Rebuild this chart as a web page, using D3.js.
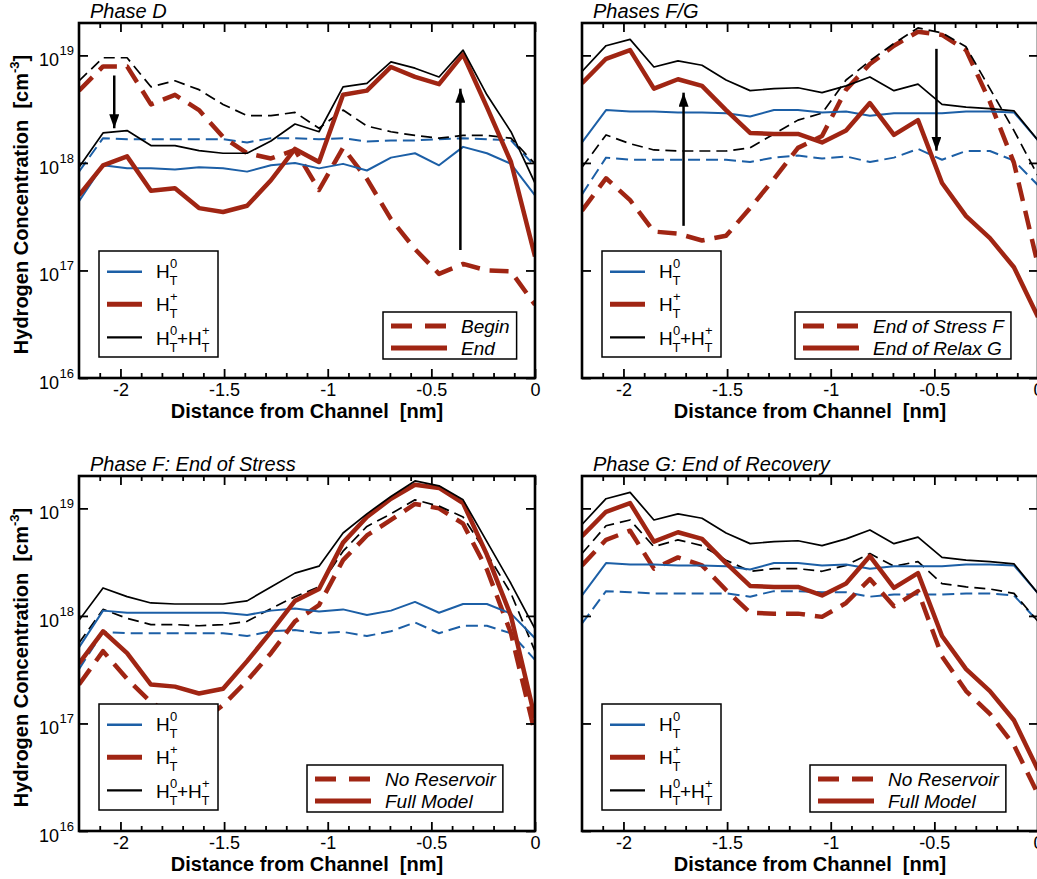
<!DOCTYPE html>
<html>
<head>
<meta charset="utf-8">
<script src="https://cdn.jsdelivr.net/npm/d3@7"></script>
<style>
  body { margin: 0; background: #fff; }
  svg { display: block; font-family: "Liberation Sans", Arial, Helvetica, sans-serif; }
</style>
</head>
<body>
<svg id="chart" width="1037" height="879"></svg>
<script>
// distance from channel [nm], one grid shared by every curve
var xs = [-2.2, -2.084, -1.968, -1.853, -1.737, -1.621, -1.505, -1.389, -1.274, -1.158,
          -1.042, -0.926, -0.811, -0.695, -0.579, -0.463, -0.347, -0.232, -0.116, 0];

// Phase D, begin / end  [cm^-3]
var phaseD_begin_h0  = [8.3e17, 1.7e18, 1.66e18, 1.66e18, 1.66e18, 1.66e18, 1.66e18, 1.55e18, 1.7e18, 1.7e18,
                        1.66e18, 1.7e18, 1.58e18, 1.62e18, 1.62e18, 1.66e18, 1.7e18, 1.66e18, 1.62e18, 9.3e17];
var phaseD_begin_hp  = [4.7e18, 7.9e18, 7.9e18, 3.5e18, 4.3e18, 3.1e18, 1.74e18, 1.23e18, 1.1e18, 1.32e18,
                        5.6e17, 1.38e18, 7.1e17, 3.0e17, 1.58e17, 9.3e16, 1.15e17, 1.0e17, 9.8e16, 4.8e16];
var phaseD_begin_sum = [5.8e18, 9.5e18, 9.5e18, 5.1e18, 5.8e18, 4.8e18, 3.5e18, 2.75e18, 2.75e18, 2.95e18,
                        2.1e18, 3.1e18, 2.2e18, 1.95e18, 1.8e18, 1.7e18, 1.8e18, 1.8e18, 1.7e18, 9.8e17];
var phaseD_end_h0    = [4.4e17, 9.5e17, 8.9e17, 8.9e17, 8.7e17, 9.1e17, 8.9e17, 8.3e17, 9.5e17, 1.0e18,
                        8.9e17, 9.8e17, 8.5e17, 1.12e18, 1.23e18, 9.5e17, 1.41e18, 1.23e18, 9.8e17, 5.0e17];
var phaseD_end_hp    = [5.0e17, 9.5e17, 1.15e18, 5.5e17, 5.8e17, 3.8e17, 3.5e17, 4.0e17, 6.9e17, 1.35e18,
                        1.02e18, 4.3e18, 4.7e18, 7.8e18, 6.3e18, 5.4e18, 1.02e19, 3.3e18, 1.02e18, 1.35e17];
var phaseD_end_sum   = [9.1e17, 1.9e18, 2.0e18, 1.45e18, 1.45e18, 1.3e18, 1.23e18, 1.23e18, 1.6e18, 2.3e18,
                        1.95e18, 5.1e18, 5.5e18, 8.7e18, 7.6e18, 6.3e18, 1.12e19, 4.3e18, 1.95e18, 6.5e17];

// end of stress F (full model)
var stressF_h0  = [5.1e17, 1.12e18, 1.07e18, 1.07e18, 1.07e18, 1.07e18, 1.07e18, 1.02e18, 1.12e18, 1.17e18,
                   1.1e18, 1.15e18, 1.02e18, 1.12e18, 1.35e18, 1.07e18, 1.29e18, 1.29e18, 1.05e18, 6.2e17];
var stressF_hp  = [3.6e17, 7.2e17, 4.5e17, 2.3e17, 2.2e17, 1.9e17, 2.1e17, 3.8e17, 7.1e17, 1.38e18,
                   1.78e18, 4.8e18, 8.3e18, 1.23e19, 1.66e19, 1.55e19, 1.12e19, 3.7e18, 1.0e18, 1.12e17];
var stressF_sum = [9.1e17, 1.82e18, 1.51e18, 1.32e18, 1.29e18, 1.29e18, 1.29e18, 1.38e18, 1.86e18, 2.5e18,
                   2.9e18, 5.9e18, 8.9e18, 1.29e19, 1.8e19, 1.62e19, 1.2e19, 4.9e18, 2.0e18, 7.6e17];

// end of relax / recovery G (full model)
var relaxG_h0  = [1.55e18, 3.1e18, 3.0e18, 3.0e18, 2.95e18, 2.95e18, 2.9e18, 2.7e18, 3.1e18, 3.1e18,
                  2.95e18, 3.0e18, 2.75e18, 2.9e18, 2.9e18, 2.9e18, 3.0e18, 3.0e18, 2.95e18, 1.62e18];
var relaxG_hp  = [5.5e18, 9.3e18, 1.12e19, 4.9e18, 6.0e18, 5.2e18, 3.1e18, 1.9e18, 1.86e18, 1.86e18,
                  1.55e18, 2.0e18, 3.6e18, 1.82e18, 2.5e18, 6.5e17, 3.2e17, 2.0e17, 1.07e17, 3.7e16];
var relaxG_sum = [7.1e18, 1.23e19, 1.41e19, 7.8e18, 8.9e18, 8.1e18, 5.9e18, 4.7e18, 4.9e18, 5.0e18,
                  4.5e18, 5.2e18, 6.3e18, 4.7e18, 5.4e18, 3.5e18, 3.3e18, 3.2e18, 3.05e18, 1.62e18];

// no reservoir model, phase F and phase G
var noResF_h0  = [3.2e17, 7.1e17, 6.9e17, 6.9e17, 6.9e17, 6.9e17, 6.9e17, 6.5e17, 7.2e17, 7.4e17,
                  6.9e17, 7.1e17, 6.5e17, 7.2e17, 8.7e17, 6.9e17, 8.1e17, 8.1e17, 6.9e17, 3.9e17];
var noResF_hp  = [2.3e17, 4.7e17, 2.6e17, 1.58e17, 1.15e17, 1.0e17, 1.48e17, 2.5e17, 4.5e17, 8.9e17,
                  1.26e18, 3.3e18, 5.6e18, 7.8e18, 1.1e19, 1.0e19, 7.2e18, 2.7e18, 6.9e17, 8.1e16];
var noResF_sum = [5.6e17, 1.15e18, 9.5e17, 8.3e17, 8.3e17, 8.1e17, 8.3e17, 8.9e17, 1.17e18, 1.51e18,
                  1.86e18, 4.0e18, 6.8e18, 8.9e18, 1.2e19, 1.05e19, 8.3e18, 3.8e18, 1.62e18, 4.7e17];
var noResG_h0  = [8.5e17, 1.7e18, 1.66e18, 1.62e18, 1.62e18, 1.62e18, 1.62e18, 1.51e18, 1.7e18, 1.7e18,
                  1.66e18, 1.66e18, 1.51e18, 1.58e18, 1.58e18, 1.58e18, 1.62e18, 1.62e18, 1.55e18, 8.9e17];
var noResG_hp  = [2.95e18, 5.1e18, 6.2e18, 2.75e18, 3.5e18, 2.95e18, 1.74e18, 1.07e18, 1.05e18, 1.05e18,
                  9.8e17, 1.32e18, 2.2e18, 1.23e18, 1.7e18, 4.2e17, 2.0e17, 1.23e17, 6.3e16, 2.2e16];
var noResG_sum = [3.8e18, 6.9e18, 7.8e18, 4.4e18, 5.1e18, 4.5e18, 3.3e18, 2.6e18, 2.75e18, 2.75e18,
                  2.6e18, 2.95e18, 3.8e18, 2.9e18, 3.2e18, 2.0e18, 1.86e18, 1.78e18, 1.62e18, 8.9e17];

// arrows: [x, from, to]
var arrowsD  = [[-2.03, 6.5e18, 2.1e18], [-0.36, 1.55e17, 4.9e18]];
var arrowsFG = [[-1.71, 2.6e17, 4.5e18], [-0.49, 1.15e19, 1.3e18]];

// ticks and labels
var xMajor = [-2, -1.5, -1, -0.5, 0];
var xMajorLabels = ["-2", "-1.5", "-1", "-0.5", "0"];
var xMinor = [-2.1, -1.9, -1.8, -1.7, -1.6, -1.4, -1.3, -1.2, -1.1, -0.9, -0.8, -0.7, -0.6, -0.4, -0.3, -0.2, -0.1];
var yTicks = [1e16, 1e17, 1e18, 1e19];
var yTickExp = ["16", "17", "18", "19"];

var titles = ["Phase D", "Phases F/G", "Phase F: End of Stress", "Phase G: End of Recovery"];
var styleLabels = [["Begin", "End"], ["End of Stress F", "End of Relax G"],
                   ["No Reservoir", "Full Model"], ["No Reservoir", "Full Model"]];

var panels = [
  {left: 79,  top: 23,  yLabels: true,  box2: 304, arrows: arrowsD,
   dashed: [phaseD_begin_h0, phaseD_begin_hp, phaseD_begin_sum],
   solid:  [phaseD_end_h0, phaseD_end_hp, phaseD_end_sum]},
  {left: 582, top: 23,  yLabels: false, box2: 213, arrows: arrowsFG,
   dashed: [stressF_h0, stressF_hp, stressF_sum],
   solid:  [relaxG_h0, relaxG_hp, relaxG_sum]},
  {left: 79,  top: 476, yLabels: true,  box2: 228, arrows: [],
   dashed: [noResF_h0, noResF_hp, noResF_sum],
   solid:  [stressF_h0, stressF_hp, stressF_sum]},
  {left: 582, top: 476, yLabels: false, box2: 228, arrows: [],
   dashed: [noResG_h0, noResG_hp, noResG_sum],
   solid:  [relaxG_h0, relaxG_hp, relaxG_sum]}
];

var BLUE = "#1c5fa6", RED = "#a02513";
var kinds = [
  {color: BLUE,   width: 2,   dash: "12,6"},
  {color: RED,    width: 4.5, dash: "19,10"},
  {color: "#000", width: 1.7, dash: "11,6"}
];

var W = 456, H = 355;
var x = d3.scaleLinear().domain([-2.2, 0]).range([0, W]);
var y = d3.scaleLog().domain([1e16, 2e19]).range([H, 0]);
var line = d3.line().x(function(d) { return x(d[0]); }).y(function(d) { return y(d[1]); });

var svg = d3.select("#chart");
var defs = svg.append("defs");
defs.append("marker")
  .attr("id", "head").attr("viewBox", "0 0 14 10")
  .attr("refX", 14).attr("refY", 5)
  .attr("markerUnits", "userSpaceOnUse")
  .attr("markerWidth", 14).attr("markerHeight", 10)
  .attr("orient", "auto")
  .append("path").attr("d", "M0,0 L14,5 L0,10 Z").attr("fill", "#000");

// H with subscript T and a superscript, returns x after it
function hT(g, hx, hy, sup) {
  g.append("text").attr("x", hx).attr("y", hy).attr("font-size", 19).text("H");
  g.append("text").attr("x", hx + 13.5).attr("y", hy + 7).attr("font-size", 13).text("T");
  g.append("text").attr("x", hx + 14).attr("y", hy - 10).attr("font-size", 13).text(sup);
  return hx + 22;
}

function styleAxis(sel) {
  sel.select(".domain").remove();
  sel.selectAll(".tick line").attr("stroke", "#000").attr("stroke-width", 1.8);
  sel.selectAll(".tick text").attr("fill", "#000").attr("font-size", 18)
     .attr("font-family", "Liberation Sans, Arial, sans-serif");
}

panels.forEach(function(p, i) {
  var g = svg.append("g").attr("transform", "translate(" + p.left + "," + p.top + ")");
  defs.append("clipPath").attr("id", "clip" + i)
    .append("rect").attr("width", W).attr("height", H);

  var plot = g.append("g").attr("clip-path", "url(#clip" + i + ")");
  [p.dashed, p.solid].forEach(function(set, s) {
    set.forEach(function(vals, k) {
      plot.append("path")
        .attr("d", line(d3.zip(xs, vals)))
        .attr("fill", "none")
        .attr("stroke", kinds[k].color)
        .attr("stroke-width", kinds[k].width)
        .attr("stroke-dasharray", s === 0 ? kinds[k].dash : null)
        .attr("stroke-linejoin", "round");
    });
  });

  p.arrows.forEach(function(a) {
    plot.append("line")
      .attr("x1", x(a[0])).attr("x2", x(a[0]))
      .attr("y1", y(a[1])).attr("y2", y(a[2]))
      .attr("stroke", "#000").attr("stroke-width", 2.5)
      .attr("marker-end", "url(#head)");
  });

  // axes, all ticks pointing inward
  g.append("g").attr("transform", "translate(0," + H + ")")
    .call(d3.axisBottom(x).tickValues(xMajor).tickSize(-9).tickPadding(5)
      .tickFormat(function(d, j) { return xMajorLabels[j]; }))
    .call(styleAxis);
  g.append("g").attr("transform", "translate(0," + H + ")")
    .call(d3.axisBottom(x).tickValues(xMinor).tickSize(-5).tickFormat(""))
    .call(styleAxis);
  g.append("g")
    .call(d3.axisTop(x).tickValues(xMajor).tickSize(-9).tickFormat(""))
    .call(styleAxis);
  g.append("g")
    .call(d3.axisTop(x).tickValues(xMinor).tickSize(-5).tickFormat(""))
    .call(styleAxis);
  g.append("g")
    .call(d3.axisLeft(y).tickValues(yTicks).tickSize(-9).tickFormat(""))
    .call(styleAxis);
  g.append("g").attr("transform", "translate(" + W + ",0)")
    .call(d3.axisRight(y).tickValues(yTicks).tickSize(-9).tickFormat(""))
    .call(styleAxis);

  g.append("rect").attr("width", W).attr("height", H)
    .attr("fill", "none").attr("stroke", "#000").attr("stroke-width", 2.6);

  if (p.yLabels) {
    yTicks.forEach(function(t, j) {
      var ty = y(t);
      g.append("text").attr("x", -5).attr("y", ty).attr("text-anchor", "end")
        .attr("font-size", 13).text(yTickExp[j]);
      g.append("text").attr("x", -20).attr("y", ty + 11).attr("text-anchor", "end")
        .attr("font-size", 18).text("10");
    });
    var yt = g.append("text")
      .attr("transform", "translate(" + (28 - p.left) + "," + (H / 2 + 4) + ") rotate(-90)")
      .attr("text-anchor", "middle").attr("font-size", 20).attr("font-weight", "bold");
    yt.append("tspan").text("Hydrogen Concentration\u00a0\u00a0[cm");
    yt.append("tspan").attr("dy", -9).attr("font-size", 13).text("-3");
    yt.append("tspan").attr("dy", 9).text("]");
  }

  g.append("text").attr("x", W / 2).attr("y", H + 40).attr("text-anchor", "middle")
    .attr("font-size", 20).attr("font-weight", "bold")
    .text("Distance from Channel\u00a0\u00a0[nm]");

  g.append("text").attr("x", 11).attr("y", -5)
    .attr("font-size", 20).attr("font-style", "italic").text(titles[i]);

  // species legend
  var l1 = g.append("g").attr("transform", "translate(20,228)");
  l1.append("rect").attr("width", 119).attr("height", 106)
    .attr("fill", "#fff").attr("stroke", "#000").attr("stroke-width", 1.5);
  var rowsY = [20.7, 53.3, 86.3];
  kinds.forEach(function(k, j) {
    l1.append("line").attr("x1", 8).attr("x2", 43).attr("y1", rowsY[j]).attr("y2", rowsY[j])
      .attr("stroke", k.color).attr("stroke-width", j === 1 ? 5 : (j === 0 ? 2.5 : 2.2));
  });
  hT(l1, 57, 27.3, "0");
  hT(l1, 57, 60, "+");
  var nx = hT(l1, 57, 94, "0");
  l1.append("text").attr("x", nx - 1).attr("y", 94).attr("font-size", 19).text("+");
  hT(l1, nx + 10, 94, "+");

  // line style legend
  var l2 = g.append("g").attr("transform", "translate(" + p.box2 + ",289)");
  var box = l2.append("rect").attr("height", 47)
    .attr("fill", "#fff").attr("stroke", "#000").attr("stroke-width", 1.5);
  var maxW = 0;
  styleLabels[i].forEach(function(lab, j) {
    l2.append("line").attr("x1", 8).attr("x2", 64).attr("y1", 14 + 22 * j).attr("y2", 14 + 22 * j)
      .attr("stroke", RED).attr("stroke-width", 5)
      .attr("stroke-dasharray", j === 0 ? "21,13" : null);
    var t = l2.append("text").attr("x", 78).attr("y", 21 + 22 * j)
      .attr("font-size", 19).attr("font-style", "italic").text(lab);
    maxW = Math.max(maxW, t.node().getComputedTextLength());
  });
  box.attr("width", 78 + maxW + 7);
});
</script>
</body>
</html>
